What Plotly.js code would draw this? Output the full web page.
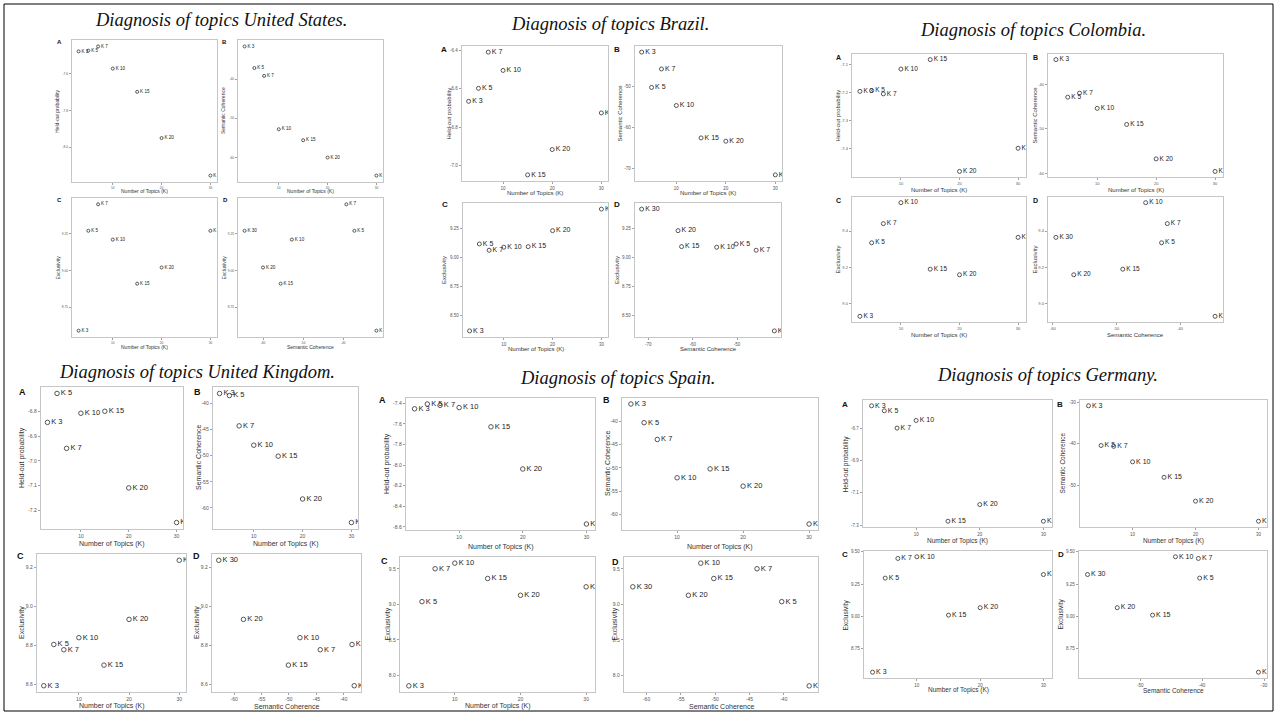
<!DOCTYPE html>
<html><head><meta charset="utf-8">
<script src="https://cdn.plot.ly/plotly-3.0.1.min.js"></script>
<style>html,body{margin:0;padding:0;background:#fff}#chart{width:1277px;height:715px}</style>
</head><body><div id="chart"></div>
<script>
// ---------- DATA ----------
const K = [3, 5, 7, 10, 15, 20, 30];
const kLabels = ["K 3", "K 5", "K 7", "K 10", "K 15", "K 20", "K 30"];
const kTicks = [10, 20, 30];
const kTickText = ["10", "20", "30"];

// United States
const usHeldout = [-7.477, -7.473, -7.450, -7.571, -7.698, -7.951, -8.156];
const usSemcoh  = [-31.7, -37.2, -39.2, -52.8, -55.6, -60.0, -64.6];
const usExclus  = [8.59, 9.27, 9.45, 9.21, 8.91, 9.02, 9.27];
const usHeldTicks = [-7.6, -7.8, -8.0], usHeldTickText = ["-7.6", "-7.8", "-8.0"];
const usSemTicks = [-60, -50, -40], usSemTickText = ["-60", "-50", "-40"];
const usExcTicks = [8.75, 9.00, 9.25], usExcTickText = ["8.75", "9.00", "9.25"];

// Brazil
const brHeldout = [-6.665, -6.597, -6.407, -6.503, -7.051, -6.918, -6.726];
const brSemcoh  = [-41.6, -50.2, -45.7, -54.6, -62.5, -63.3, -71.5];
const brExclus  = [8.37, 9.116, 9.062, 9.088, 9.093, 9.23, 9.415];
const brHeldTicks = [-7.0, -6.8, -6.6, -6.4], brHeldTickText = ["-7.0", "-6.8", "-6.6", "-6.4"];
const brSemTicks = [-70, -60, -50], brSemTickText = ["-70", "-60", "-50"];
const brExcTicks = [8.50, 8.75, 9.00, 9.25], brExcTickText = ["8.50", "8.75", "9.00", "9.25"];

// Colombia
const coHeldout = [-7.196, -7.193, -7.205, -7.116, -7.082, -7.483, -7.400];
const coSemcoh  = [-34.5, -42.9, -42.0, -45.4, -49.0, -56.7, -59.5];
const coExclus  = [8.928, 9.335, 9.441, 9.557, 9.189, 9.158, 9.365];
const coHeldTicks = [-7.4, -7.3, -7.2, -7.1], coHeldTickText = ["-7.4", "-7.3", "-7.2", "-7.1"];
const coSemTicks = [-60, -50, -40], coSemTickText = ["-60", "-50", "-40"];
const coExcTicks = [9.0, 9.2, 9.4], coExcTickText = ["9.0", "9.2", "9.4"];

// United Kingdom
const ukHeldout = [-6.844, -6.727, -6.949, -6.807, -6.799, -7.109, -7.249];
const ukSemcoh  = [-38.1, -38.5, -44.3, -48.0, -50.1, -58.3, -62.8];
const ukExclus  = [8.593, 8.805, 8.778, 8.840, 8.699, 8.934, 9.238];
const ukHeldTicks = [-7.2, -7.1, -7.0, -6.9, -6.8, -6.7], ukHeldTickText = ["-7.2", "-7.1", "-7.0", "-6.9", "-6.8", "-6.7"];
const ukSemTicks = [-60, -55, -50, -45, -40], ukSemTickText = ["-60", "-55", "-50", "-45", "-40"];
const ukExcTicks = [8.6, 8.8, 9.0, 9.2], ukExcTickText = ["8.6", "8.8", "9.0", "9.2"];

// Spain
const esHeldout = [-7.453, -7.406, -7.419, -7.441, -7.628, -8.038, -8.573];
const esSemcoh  = [-36.3, -40.3, -43.9, -52.1, -50.2, -53.9, -62.0];
const esExclus  = [7.855, 9.038, 9.500, 9.579, 9.363, 9.127, 9.246];
const esHeldTicks = [-8.6, -8.4, -8.2, -8.0, -7.8, -7.6, -7.4], esHeldTickText = ["-8.6", "-8.4", "-8.2", "-8.0", "-7.8", "-7.6", "-7.4"];
const esSemTicks = [-60, -55, -50, -45, -40, -35], esSemTickText = ["-60", "-55", "-50", "-45", "-40", "-35"];
const esExcTicks = [8.0, 8.5, 9.0, 9.5], esExcTickText = ["8.0", "8.5", "9.0", "9.5"];

// Germany
const deHeldout = [-6.562, -6.593, -6.700, -6.653, -7.276, -7.173, -7.276];
const deSemcoh  = [-30.9, -40.4, -40.6, -44.3, -48.0, -53.7, -58.5];
const deExclus  = [8.564, 9.296, 9.449, 9.462, 9.008, 9.066, 9.324];
const deHeldTicks = [-7.3, -7.1, -6.9, -6.7], deHeldTickText = ["-7.3", "-7.1", "-6.9", "-6.7"];
const deSemTicks = [-50, -40, -30], deSemTickText = ["-50", "-40", "-30"];
const deExcTicks = [8.75, 9.00, 9.25, 9.50], deExcTickText = ["8.75", "9.00", "9.25", "9.50"];

// ---------- LAYOUT GEOMETRY ----------
const W = 1277, H = 715;
const fx = x => x / W, fy = y => 1 - y / H;
const SANS = "Liberation Sans, Arial, sans-serif";

const countries = [
  { title: "Diagnosis of topics United States.", tx: 221, ty: 20,
    held: usHeldout, sem: usSemcoh, exc: usExclus,
    ht: [usHeldTicks, usHeldTickText], st: [usSemTicks, usSemTickText], et: [usExcTicks, usExcTickText],
    sz: { lbl: 4.6, tick: 3.2, at: 5, let: 6, m: 3 },
    p: [ { b: [72, 217, 40, 182], ytx: 57, xty: 191, L: [59, 42] },
         { b: [238, 383, 40, 182], ytx: 223, xty: 191, L: [224, 42] },
         { b: [72, 217, 198, 337], ytx: 57, xty: 347, L: [59, 200] },
         { b: [238, 383, 198, 337], ytx: 223, xty: 347, L: [225, 200] } ] },
  { title: "Diagnosis of topics Brazil.", tx: 610, ty: 24,
    held: brHeldout, sem: brSemcoh, exc: brExclus,
    ht: [brHeldTicks, brHeldTickText], st: [brSemTicks, brSemTickText], et: [brExcTicks, brExcTickText],
    sz: { lbl: 7, tick: 4.5, at: 6, let: 8, m: 4 },
    p: [ { b: [462, 608, 46, 181], ytx: 448, xty: 193, L: [444, 50] },
         { b: [635, 782, 46, 181], ytx: 619, xty: 193, L: [617, 50] },
         { b: [463, 608, 203, 337], ytx: 444, xty: 349, L: [445, 205] },
         { b: [635, 781, 203, 337], ytx: 617, xty: 349, L: [617, 205] } ] },
  { title: "Diagnosis of topics Colombia.", tx: 1033, ty: 30,
    held: coHeldout, sem: coSemcoh, exc: coExclus,
    ht: [coHeldTicks, coHeldTickText], st: [coSemTicks, coSemTickText], et: [coExcTicks, coExcTickText],
    sz: { lbl: 6.5, tick: 4, at: 6, let: 7, m: 4 },
    p: [ { b: [852, 1026, 54, 177], ytx: 838, xty: 190, L: [838, 57] },
         { b: [1048, 1223, 54, 177], ytx: 1035, xty: 190, L: [1035, 57] },
         { b: [852, 1026, 197, 322], ytx: 837, xty: 335, L: [838, 200] },
         { b: [1048, 1223, 197, 322], ytx: 1034, xty: 335, L: [1035, 200] } ] },
  { title: "Diagnosis of topics United Kingdom.", tx: 197, ty: 372,
    held: ukHeldout, sem: ukSemcoh, exc: ukExclus,
    ht: [ukHeldTicks, ukHeldTickText], st: [ukSemTicks, ukSemTickText], et: [ukExcTicks, ukExcTickText],
    sz: { lbl: 7.5, tick: 5, at: 7, let: 9, m: 4.5 },
    p: [ { b: [41, 183, 387, 529], ytx: 22, xty: 544, L: [22, 392] },
         { b: [213, 358, 387, 529], ytx: 198, xty: 544, L: [197, 392] },
         { b: [37, 186, 554, 692], ytx: 22, xty: 706, L: [20, 556] },
         { b: [212, 361, 554, 692], ytx: 197, xty: 706, L: [196, 556] } ] },
  { title: "Diagnosis of topics Spain.", tx: 617, ty: 378,
    held: esHeldout, sem: esSemcoh, exc: esExclus,
    ht: [esHeldTicks, esHeldTickText], st: [esSemTicks, esSemTickText], et: [esExcTicks, esExcTickText],
    sz: { lbl: 7.5, tick: 5, at: 7, let: 9, m: 4.5 },
    p: [ { b: [406, 595, 398, 530], ytx: 387, xty: 547, L: [383, 400] },
         { b: [622, 818, 398, 530], ytx: 607, xty: 547, L: [606, 400] },
         { b: [400, 595, 557, 692], ytx: 387, xty: 706, L: [384, 561] },
         { b: [624, 818, 557, 692], ytx: 614, xty: 706, L: [615, 562] } ] },
  { title: "Diagnosis of topics Germany.", tx: 1047, ty: 375,
    held: deHeldout, sem: deSemcoh, exc: deExclus,
    ht: [deHeldTicks, deHeldTickText], st: [deSemTicks, deSemTickText], et: [deExcTicks, deExcTickText],
    sz: { lbl: 7, tick: 4.5, at: 6.5, let: 8, m: 4 },
    p: [ { b: [863, 1052, 400, 527], ytx: 845, xty: 541, L: [845, 404] },
         { b: [1080, 1267, 400, 527], ytx: 1062, xty: 541, L: [1060, 404] },
         { b: [864, 1052, 551, 678], ytx: 845, xty: 690, L: [845, 554] },
         { b: [1079, 1267, 551, 678], ytx: 1060, xty: 690, L: [1061, 554] } ] }
];

function expandRange(arr) {
  const mn = Math.min(...arr), mx = Math.max(...arr), pad = (mx - mn) * 0.05;
  return [mn - pad, mx + pad];
}

const traces = [], layout = {
  width: W, height: H, margin: { l: 0, r: 0, t: 0, b: 0 },
  paper_bgcolor: "#fff", plot_bgcolor: "#fff", showlegend: false,
  annotations: [], shapes: [],
  font: { family: SANS, color: "#222" }
};

let n = 0;
countries.forEach(c => {
  layout.annotations.push({
    text: c.title, xref: "paper", yref: "paper", x: fx(c.tx), y: fy(c.ty),
    xanchor: "center", yanchor: "middle", showarrow: false,
    font: { family: "Liberation Serif, Times New Roman, serif", size: 18.5, color: "#111", style: "italic" }
  });
  const defs = [
    { x: K, y: c.held, xt: [kTicks, kTickText], yt: c.ht, xl: "Number of Topics (K)", yl: "Held-out probability", tag: "A" },
    { x: K, y: c.sem, xt: [kTicks, kTickText], yt: c.st, xl: "Number of Topics (K)", yl: "Semantic Coherence", tag: "B" },
    { x: K, y: c.exc, xt: [kTicks, kTickText], yt: c.et, xl: "Number of Topics (K)", yl: "Exclusivity", tag: "C" },
    { x: c.sem, y: c.exc, xt: c.st, yt: c.et, xl: "Semantic Coherence", yl: "Exclusivity", tag: "D" }
  ];
  defs.forEach((d, i) => {
    n += 1;
    const P = c.p[i], b = P.b;
    const xs = n === 1 ? "" : String(n);
    const common = {
      ticks: "outside", ticklen: 2, tickwidth: 0.8, tickcolor: "#8a8a8a",
      tickfont: { family: SANS, size: c.sz.tick, color: "#555" },
      showline: true, mirror: true, linecolor: "#c6c6c6", linewidth: 1.3,
      showgrid: false, zeroline: false, automargin: false, fixedrange: true,
      tickmode: "array"
    };
    layout["xaxis" + xs] = Object.assign({}, common, {
      domain: [fx(b[0]), fx(b[1])], range: expandRange(d.x), anchor: "y" + xs,
      tickvals: d.xt[0], ticktext: d.xt[1]
    });
    layout["yaxis" + xs] = Object.assign({}, common, {
      domain: [fy(b[3]), fy(b[2])], range: expandRange(d.y), anchor: "x" + xs,
      tickvals: d.yt[0], ticktext: d.yt[1]
    });
    traces.push({
      type: "scatter", mode: "markers+text", x: d.x, y: d.y, text: kLabels,
      textposition: "middle right", xaxis: "x" + xs, yaxis: "y" + xs,
      cliponaxis: true, hoverinfo: "skip", showlegend: false,
      marker: { symbol: "circle-open", size: c.sz.m, color: "#555", line: { width: 1 } },
      textfont: { family: SANS, size: c.sz.lbl, color: "#222" }
    });
    layout.annotations.push({
      text: d.xl, xref: "paper", yref: "paper", x: fx((b[0] + b[1]) / 2), y: fy(P.xty),
      xanchor: "center", yanchor: "middle", showarrow: false,
      font: { family: SANS, size: c.sz.at, color: "#333" }
    });
    layout.annotations.push({
      text: d.yl, xref: "paper", yref: "paper", x: fx(P.ytx), y: fy((b[2] + b[3]) / 2),
      xanchor: "center", yanchor: "middle", showarrow: false, textangle: -90,
      font: { family: SANS, size: c.sz.at, color: "#333" }
    });
    layout.annotations.push({
      text: "<b>" + d.tag + "</b>", xref: "paper", yref: "paper", x: fx(P.L[0]), y: fy(P.L[1]),
      xanchor: "center", yanchor: "middle", showarrow: false,
      font: { family: SANS, size: c.sz.let, color: "#111" }
    });
  });
});

layout.shapes.push({
  type: "rect", xref: "paper", yref: "paper",
  x0: fx(4), x1: fx(1273), y0: fy(711), y1: fy(4),
  line: { color: "#000", width: 1 }, fillcolor: "rgba(0,0,0,0)"
});

Plotly.newPlot("chart", traces, layout, { displayModeBar: false, staticPlot: true });
</script>
</body></html>
